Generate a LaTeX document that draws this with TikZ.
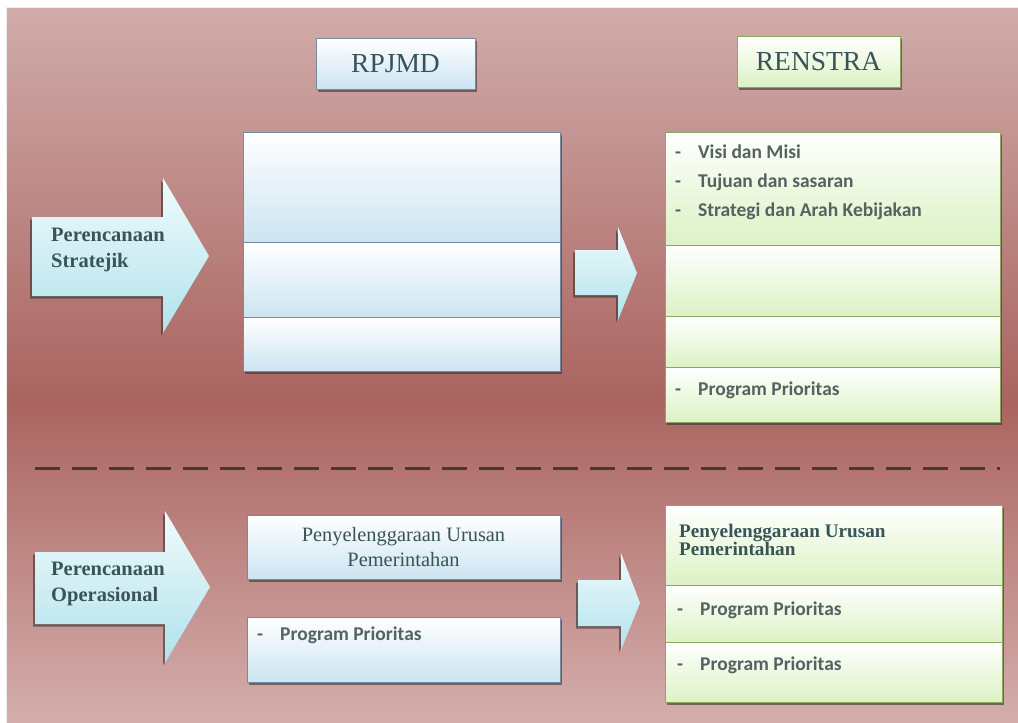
\documentclass[tikz,border=0pt]{standalone}
\usepackage{fontspec}
\setmainfont{Liberation Serif}
\setsansfont{Carlito}
\usetikzlibrary{shadows}

\definecolor{bgtop}{RGB}{208,172,170}
\definecolor{bgmid}{RGB}{170,100,96}
\definecolor{bgbot}{RGB}{212,174,172}
\definecolor{cellblue}{RGB}{204,228,242}
\definecolor{cellgreen}{RGB}{220,242,196}
\definecolor{edgeblue}{RGB}{118,138,160}
\definecolor{edgegreen}{RGB}{138,168,98}
\definecolor{arrowlight}{RGB}{240,251,252}
\definecolor{arrowcyan}{RGB}{176,226,236}
\definecolor{txtserif}{RGB}{56,84,86}
\definecolor{txtsans}{RGB}{84,98,98}
\definecolor{dashc}{RGB}{72,56,56}

\tikzset{
  boxshadow/.style={drop shadow={shadow xshift=1.5pt, shadow yshift=-2.5pt, opacity=0.6, fill=black!80}},
  bluecell/.style={rectangle, draw=edgeblue, line width=0.8pt, top color=white, bottom color=cellblue, inner sep=0pt, boxshadow},
  greencell/.style={rectangle, draw=edgegreen, line width=0.8pt, top color=white, bottom color=cellgreen, inner sep=0pt, boxshadow},
  blockarrow/.style={top color=arrowlight, bottom color=arrowcyan, drop shadow={shadow xshift=-2pt, shadow yshift=-2.5pt, opacity=0.6, fill=black!80}},
  titletxt/.style={font=\fontsize{27.5}{30}\selectfont, text=txtserif},
  arrowtxt/.style={font=\fontsize{20.5}{26}\selectfont\bfseries, text=txtserif, align=left, inner sep=0pt},
  itemtxt/.style={font=\sffamily\bfseries\fontsize{19.5}{29}\selectfont, text=txtsans, align=left, inner sep=0pt},
  sepline/.style={draw=dashc, line width=3pt, dash pattern=on 25pt off 12pt}
}
\newcommand{\itm}[1]{\makebox[23pt][l]{-}#1}

\begin{document}
\begin{tikzpicture}[x=1pt,y=-1pt]
    \useasboundingbox (0,0) rectangle (1018,723);

    % background, darkest around the middle
    \fill[top color=bgtop, bottom color=bgmid] (6,7) rectangle (1018,401);
    \fill[top color=bgmid, bottom color=bgbot] (6,400) rectangle (1018,723);
    \draw[white!75!bgtop, line width=1pt] (6.5,723) -- (6.5,7.5) -- (1018,7.5);

    % column heads
    \node[bluecell, minimum width=159pt, minimum height=51pt, titletxt] (rpjmd) at (395.5,63.5) {RPJMD};
    \node[greencell, minimum width=163pt, minimum height=51pt, titletxt] (renstra) at (818.5,61.5) {RENSTRA};

    % strategic part
    \path[blockarrow] (32,217) -- (163,217) -- (163,178) -- (209,256) -- (163,333) -- (163,296) -- (32,296) -- cycle;
    \node[arrowtxt, anchor=west] (stratejik) at (51,250) {Perencanaan\\Stratejik};

    \node[bluecell, minimum width=317pt, minimum height=110pt] (rpjmdStr1) at (401.5,187) {};
    \node[bluecell, minimum width=317pt, minimum height=75pt] (rpjmdStr2) at (401.5,279.5) {};
    \node[bluecell, minimum width=317pt, minimum height=54pt] (rpjmdStr3) at (401.5,344) {};

    \path[blockarrow] (575,250) -- (618,250) -- (618,227) -- (637,273) -- (618,320) -- (618,295) -- (575,295) -- cycle;

    \node[greencell, minimum width=335pt, minimum height=113pt] (renstraStr1) at (832.5,188.5) {};
    \node[greencell, minimum width=335pt, minimum height=71pt] (renstraStr2) at (832.5,280.5) {};
    \node[greencell, minimum width=335pt, minimum height=51pt] (renstraStr3) at (832.5,341.5) {};
    \node[greencell, minimum width=335pt, minimum height=55pt] (renstraStr4) at (832.5,394.5) {};
    \node[itemtxt, anchor=west] (visi) at (675,182) {\itm{Visi dan Misi}\\\itm{Tujuan dan sasaran}\\\itm{Strategi dan Arah Kebijakan}};
    \node[itemtxt, anchor=west] (progStr) at (675,390) {\itm{Program Prioritas}};

    % split line
    \draw[sepline] (35,468) -- (1000,468);

    % operational part
    \path[blockarrow] (35,552) -- (165,552) -- (165,511) -- (210,587) -- (165,663) -- (165,624) -- (35,624) -- cycle;
    \node[arrowtxt, anchor=west] (operasional) at (51,584) {Perencanaan\\Operasional};

    \node[bluecell, minimum width=313pt, minimum height=64pt, align=center,
          font=\fontsize{20.4}{25}\selectfont, text=txtserif] (rpjmdOp1) at (403.5,547) {Penyelenggaraan Urusan\\Pemerintahan};
    \node[bluecell, minimum width=313pt, minimum height=65pt] (rpjmdOp2) at (403.5,649.5) {};
    \node[itemtxt, anchor=west] (progOp) at (257,635) {\itm{Program Prioritas}};

    \path[blockarrow] (578,580) -- (621,580) -- (621,553) -- (640,603) -- (621,650) -- (621,626) -- (578,626) -- cycle;

    \node[greencell, minimum width=337pt, minimum height=80pt] (renstraOp1) at (833.5,545) {};
    \node[greencell, minimum width=337pt, minimum height=57pt] (renstraOp2) at (833.5,613.5) {};
    \node[greencell, minimum width=337pt, minimum height=60pt] (renstraOp3) at (833.5,672) {};
    \node[anchor=west, align=left, inner sep=0pt, text=txtserif,
          font=\fontsize{19.2}{18}\selectfont\bfseries] (urusan) at (679,540) {Penyelenggaraan Urusan\\Pemerintahan};
    \node[itemtxt, anchor=west] (progOp1) at (677,610) {\itm{Program Prioritas}};
    \node[itemtxt, anchor=west] (progOp2) at (677,665) {\itm{Program Prioritas}};
\end{tikzpicture}
\end{document}
